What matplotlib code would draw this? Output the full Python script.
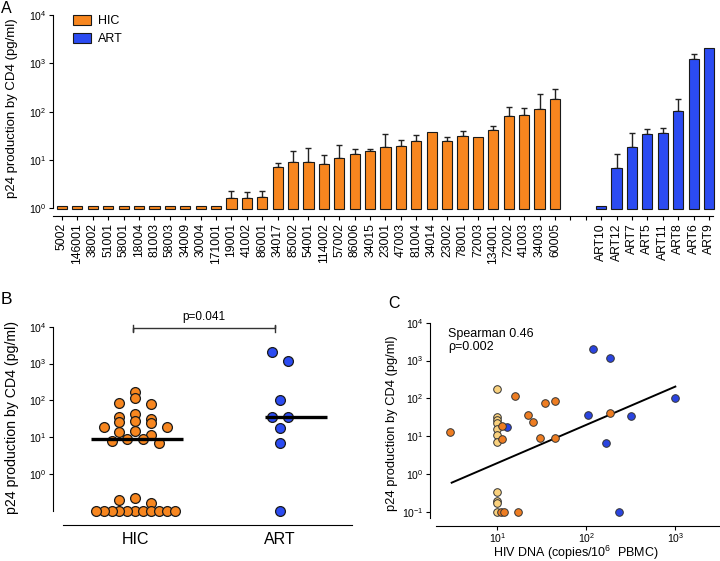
import matplotlib
matplotlib.use('Agg')
import matplotlib.pyplot as plt
import numpy as np
from matplotlib.patches import Patch
from matplotlib.ticker import NullLocator
import matplotlib.transforms as mtransforms

plt.rcParams.update({
    'font.family': ['Liberation Sans', 'DejaVu Sans'],
    'mathtext.fontset': 'custom',
    'mathtext.rm': 'Liberation Sans',
    'mathtext.it': 'Liberation Sans:italic',
    'mathtext.bf': 'Liberation Sans:bold',
    'axes.linewidth': 0.8,
})

# ---------------- data ----------------
# Panel A
hic_ids = ['5002', '146001', '38002', '51001', '58001', '18004', '81003', '58003', '34009',
           '30004', '171001', '19001', '41002', '86001', '34017', '85002', '54001', '114002',
           '57002', '86006', '34015', '23001', '47003', '81004', '34014', '23002', '78001',
           '72003', '134001', '72002', '41003', '34003', '60005']
hic_bar = [1.1, 1.1, 1.1, 1.1, 1.1, 1.1, 1.1, 1.1, 1.1, 1.1, 1.1,
           1.66, 1.66, 1.74, 7.1, 9.0, 9.2, 8.3, 11.0, 13.5, 15.6, 18.9, 19.5, 24.7,
           37.4, 25.1, 31.4, 29.4, 42.4, 80, 86.7, 115, 181]
hic_err_top = [None, None, None, None, None, None, None, None, None, None, None,
               2.25, 2.21, 2.33, 8.8, 15.4, 17.7, 12.9, 20.1, 17.1, 16.9, 34.5, 25.5, 32.4,
               None, 30.4, 39.2, None, 49.7, 123, 117, 229, 299]
art_ids = ['ART10', 'ART12', 'ART7', 'ART5', 'ART11', 'ART8', 'ART6', 'ART9']
art_bar = [1.1, 6.9, 18.6, 34.5, 36.8, 104, 1216, 2055]
art_err_top = [None, 13.5, 36.8, 44.5, 45.9, 184, 1585, None]

# Panel B
groups_b = ['HIC', 'ART']
b_hic = [173, 115, 85.5, 79, 42.3, 36.4, 31.6, 28.4, 26.1, 24.5, 19.5, 18.8, 15.2, 13.7,
         11.4, 9.2, 9.1, 8.0, 6.9, 0.224, 0.20, 0.163,
         0.1, 0.1, 0.1, 0.1, 0.1, 0.1, 0.1, 0.1, 0.1, 0.1, 0.1]
b_art = [2040, 1200, 100, 36, 35, 18, 6.9, 0.1]
p_text = 'p=0.041'

# Panel C
c_light_x = [10, 10, 10, 10, 10, 10, 10, 10, 10, 10, 10]
c_light_y = [174, 32, 27, 22, 16, 11, 7.1, 0.33, 0.2, 0.17, 0.1]
c_orange_x = [2.94, 16, 34, 45, 22, 25, 30, 45, 186, 11.2, 11.2, 11, 12, 17]
c_orange_y = [13.3, 113, 78, 85, 36, 24, 8.9, 9.1, 42, 18.7, 8.3, 0.1, 0.1, 0.1]
c_blue_x = [120, 185, 1000, 104, 315, 168, 13, 235]
c_blue_y = [2000, 1180, 100, 36, 34, 6.8, 18, 0.1]
fit_slope = 1.01
fit_log_intercept = -0.717
fit_x_range = [3.07, 1000]
spearman_text = 'Spearman 0.46\n\u03c1=0.002'

# ---------------- style ----------------
ORANGE = '#F7861F'
BLUE = '#2B4BF2'
C_LIGHT = '#F9D17E'
C_ORANGE = '#EE7D22'
C_BLUE = '#2A44E0'
EDGE = '#1a1a1a'

W, H = 720, 561
fig = plt.figure(figsize=(W / 100, H / 100), dpi=100)


def px_axes(l, t, r, b):
    return fig.add_axes([l / W, 1 - b / H, (r - l) / W, (b - t) / H])


def px2pt(p):
    return p * 72 / 100


def style_log_y(ax, ticks):
    ax.set_yscale('log')
    ax.set_yticks(ticks)
    ax.yaxis.set_minor_locator(NullLocator())
    ax.spines['top'].set_visible(False)
    ax.spines['right'].set_visible(False)
    ax.tick_params(axis='y', length=3, width=0.8, labelsize=7.5, pad=1.5)


# ---------------- Panel A ----------------
axA = px_axes(53, 15, 713, 208.3)
style_log_y(axA, [1, 10, 100, 1000, 10000])
axA.set_ylim(1, 1e4)
x_hic = np.arange(len(hic_ids))
x_art = np.arange(len(art_ids)) + len(hic_ids) + 2
axA.bar(x_hic, np.array(hic_bar) - 0.97, bottom=0.97, width=0.66, color=ORANGE,
        edgecolor=EDGE, linewidth=0.8, zorder=2, clip_on=False)
axA.bar(x_art, np.array(art_bar) - 0.97, bottom=0.97, width=0.66, color=BLUE,
        edgecolor=EDGE, linewidth=0.8, zorder=2, clip_on=False)
for xs, vals, errs in [(x_hic, hic_bar, hic_err_top), (x_art, art_bar, art_err_top)]:
    idx = [i for i, e in enumerate(errs) if e is not None]
    xe = np.array([xs[i] for i in idx])
    ve = np.array([vals[i] for i in idx])
    ee = np.array([errs[i] for i in idx])
    axA.errorbar(xe, ve, yerr=[np.zeros_like(ve), ee - ve], fmt='none', ecolor='#222222',
                 elinewidth=1.0, capsize=2, capthick=1.0, zorder=1)
all_pos = np.arange(len(hic_ids) + 2 + len(art_ids))
axA.set_xticks(all_pos)
axA.set_xticklabels(hic_ids + ['', ''] + art_ids)
axA.tick_params(axis='x', length=3, width=0.8, labelsize=8.7, pad=2, labelrotation=90)
axA.set_xlim(-0.584, 42.26)
axA.spines['bottom'].set_position(('outward', px2pt(8)))
axA.legend(handles=[Patch(facecolor=ORANGE, edgecolor=EDGE, linewidth=0.8, label='HIC'),
                    Patch(facecolor=BLUE, edgecolor=EDGE, linewidth=0.8, label='ART')],
           loc='upper left', bbox_to_anchor=(0.0303, 1.0), frameon=False, fontsize=9,
           handlelength=1.45, handleheight=0.8, handletextpad=0.55, labelspacing=0.5,
           borderpad=0, borderaxespad=0)
fig.text(12 / W, 1 - 108 / H, 'p24 production by CD4 (pg/ml)', rotation=90,
         ha='center', va='center', fontsize=9.5)
fig.text(1 / W, 1 - 1 / H, 'A', ha='left', va='top', fontsize=11.5)


# ---------------- Panel B ----------------
def column_scatter_x(ax, center, values, row_px, step_px, max_half_px):
    """Prism-like column scatter: bin points into rows, spread each row symmetrically."""
    values = np.asarray(values, dtype=float)
    pts = np.column_stack([np.full(len(values), center), values])
    ypx = ax.transData.transform(pts)[:, 1]
    unit = (ax.transData.transform([[center + 1, 1.0]])[0, 0]
            - ax.transData.transform([[center, 1.0]])[0, 0])
    order = list(np.argsort(ypx, kind='stable'))
    rows = []
    for i in order:
        if rows and ypx[i] - ypx[rows[-1][0]] < row_px:
            rows[-1].append(i)
        else:
            rows.append([i])
    offs = np.zeros(len(values))
    for row in rows:
        n = len(row)
        row_sorted = sorted(row, key=lambda k: -ypx[k])
        spacing = step_px if n == 1 else min(step_px, 2 * max_half_px / (n - 1))
        seq = []
        if n % 2 == 1:
            seq.append(0.0)
            k = 1
            while len(seq) < n:
                seq += [-k, k]
                k += 1
        else:
            k = 0.5
            while len(seq) < n:
                seq += [-k, k]
                k += 1
        for j, idx in enumerate(row_sorted):
            offs[idx] = seq[j] * spacing
    return center + offs / unit


axB = px_axes(63, 326.7, 352, 510.9)
style_log_y(axB, [1, 10, 100, 1000, 10000])
axB.set_ylim(0.1, 1e4)
axB.set_xlim(-0.5, 1.5)
axB.set_xticks([0, 1])
axB.set_xticklabels(groups_b)
axB.tick_params(axis='x', length=0, labelsize=11.5, pad=5)
axB.spines['left'].set_position(('outward', px2pt(10)))
axB.spines['bottom'].set_position(('outward', px2pt(14)))
xb_hic = column_scatter_x(axB, 0, b_hic, 7.5, 15.8, 39.5)
xb_art = column_scatter_x(axB, 1, b_art, 8.8, 15.8, 39.5)
axB.scatter(xb_hic, b_hic, s=50, color=ORANGE, edgecolor=EDGE, linewidth=0.9, zorder=3, clip_on=False)
axB.scatter(xb_art, b_art, s=50, color=BLUE, edgecolor=EDGE, linewidth=0.9, zorder=3, clip_on=False)
axB.hlines(np.median(b_hic), -0.305, 0.33, color='black', linewidth=2.4, zorder=4)
axB.hlines(np.median(b_art), 0.897, 1.329, color='black', linewidth=2.4, zorder=4)
trB = mtransforms.blended_transform_factory(axB.transData, axB.transAxes)
yl, yt, yb = 0.9946, 1.0093, 0.969
axB.plot([-0.016, -0.016, -0.016, 0.968, 0.968, 0.968], [yt, yb, yl, yl, yt, yb],
         color='#333333', linewidth=1.0, transform=trB, clip_on=False)
axB.text(0.476, 1.054, p_text, transform=trB, ha='center', va='center', fontsize=8.5)
fig.text(12 / W, 1 - 417 / H, 'p24 production by CD4 (pg/ml)', rotation=90,
         ha='center', va='center', fontsize=10.2)
fig.text(1 / W, 1 - 292 / H, 'B', ha='left', va='top', fontsize=12.5)

# ---------------- Panel C ----------------
axC = px_axes(436, 322.7, 720, 518.1)
axC.set_xscale('log')
style_log_y(axC, [0.1, 1, 10, 100, 1000, 10000])
axC.set_ylim(10 ** -1.16, 1e4)
axC.set_xlim(10 ** 0.311, 10 ** 3.502)
axC.set_xticks([10, 100, 1000])
axC.xaxis.set_minor_locator(NullLocator())
axC.tick_params(axis='x', length=3, width=0.8, labelsize=7.5, pad=1)
axC.spines['left'].set_position(('outward', px2pt(6)))
axC.spines['bottom'].set_position(('outward', px2pt(8)))
fx = np.array(fit_x_range)
axC.plot(fx, 10 ** fit_log_intercept * fx ** fit_slope, color='black', linewidth=1.4, zorder=2)
axC.scatter(c_blue_x, c_blue_y, s=30, color=C_BLUE, edgecolor='#333333', linewidth=0.7, zorder=3, clip_on=False)
axC.scatter(c_light_x, c_light_y, s=30, color=C_LIGHT, edgecolor='#333333', linewidth=0.7, zorder=3, clip_on=False)
axC.scatter(c_orange_x, c_orange_y, s=30, color=C_ORANGE, edgecolor='#333333', linewidth=0.7, zorder=3, clip_on=False)
fig.text(448 / W, 1 - 340.5 / H, spearman_text, ha='left', va='center', fontsize=9,
         linespacing=1.2)
fig.text(392 / W, 1 - 423 / H, 'p24 production by CD4 (pg/ml)', rotation=90,
         ha='center', va='center', fontsize=9.3)
fig.text(576 / W, 1 - 557.5 / H, 'HIV DNA (copies/10$^{6}$  PBMC)', ha='center', va='baseline',
         fontsize=9)
fig.text(388 / W, 1 - 296 / H, 'C', ha='left', va='top', fontsize=11.5)

fig.savefig('out.png', dpi=100)
